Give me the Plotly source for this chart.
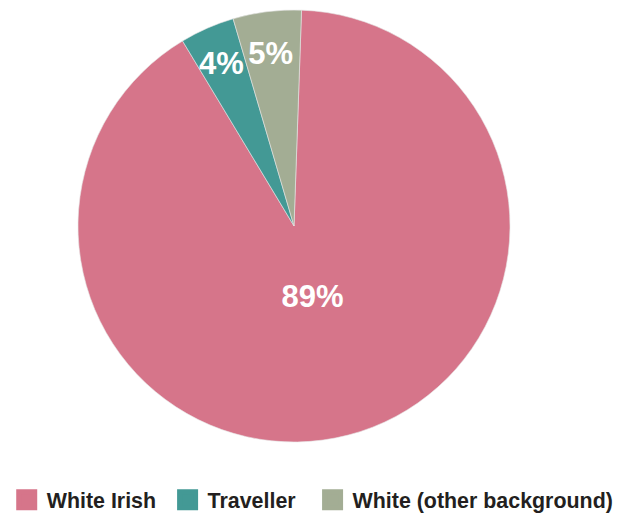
import plotly.graph_objects as go

categories = ["White Irish", "Traveller", "White (other background)"]
values = [89, 4, 5]
label_text = [
    "<span style='font-size:1px'>\u00a0</span><br>89%\u00a0\u00a0<br>\u00a0<br>\u00a0",
    "<span style='font-size:14px'>\u00a0</span><br>\u00a04%",
    "<span style='font-size:14px'>\u00a0</span><br>5%",
]
colors = ["#D6758A", "#439995", "#A3AD94"]

FONT = "Liberation Sans, Arial, sans-serif"

fig = go.Figure()
fig.add_trace(
    go.Pie(
        labels=categories,
        values=values,
        text=label_text,
        textinfo="text",
        textposition="inside",
        insidetextorientation="horizontal",
        textfont=dict(family=FONT, size=31, color="white", weight="bold"),
        marker=dict(colors=colors, line=dict(color="#E6E6E6", width=0.6)),
        sort=False,
        direction="clockwise",
        rotation=2,
        hoverinfo="label+percent",
        showlegend=False,
    )
)

legend_ids = ["legend", "legend2", "legend3"]
legend_x = [-0.165, 0.2074, 0.543]

# legend entries (square swatches), one legend box per entry
for name, col, lid in zip(categories, colors, legend_ids):
    fig.add_trace(
        go.Scatter(
            x=[None],
            y=[None],
            mode="markers",
            name=name,
            marker=dict(symbol="square", size=16, color=col, line=dict(color=col, width=5)),
            showlegend=True,
            legend=lid,
            hoverinfo="skip",
        )
    )

legend_common = dict(
    orientation="h",
    xanchor="left",
    y=-0.134,
    yanchor="middle",
    font=dict(family=FONT, size=21.4, color="#231F20", weight="bold"),
    itemsizing="trace",
    bgcolor="rgba(0,0,0,0)",
)

fig.update_layout(
    width=631,
    height=513,
    margin=dict(l=70, r=129, t=2, b=79, autoexpand=False),
    paper_bgcolor="white",
    plot_bgcolor="white",
    xaxis=dict(visible=False),
    yaxis=dict(visible=False),
    uniformtext=dict(minsize=31, mode="show"),
    legend=dict(x=legend_x[0], **legend_common),
    legend2=dict(x=legend_x[1], **legend_common),
    legend3=dict(x=legend_x[2], **legend_common),
)

fig.write_html("out.html")
